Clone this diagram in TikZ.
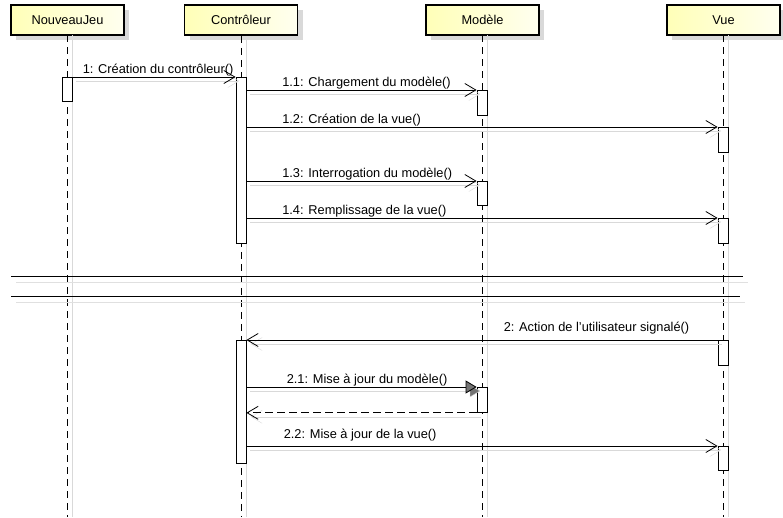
\documentclass[tikz,border=0pt]{standalone}
\usepackage{fontspec}
\setmainfont{Liberation Sans}
\usetikzlibrary{arrows.meta, shadows}
\tikzset{
>={Straight Barb[length=11pt,width=13pt]}, % open arrow heads of the messages
every node/.style={font=\fontsize{12.8}{15}\selectfont}, % sets the text size
obj/.style={draw, line width=1.6pt, minimum width=113pt, minimum height=30pt, left color=yellow!28, right color=yellow!6, drop shadow={shadow xshift=5pt, shadow yshift=-5pt, fill=black!15, opacity=1}}, % the participant boxes
life/.style={line width=0.8pt, dash pattern=on 7pt off 5pt, preaction={draw=black!15, solid, transform canvas={shift={(5pt,0pt)}}}}, % lifelines with their shadow
act/.style={draw, fill=white, line width=0.8pt, minimum width=10pt, inner sep=0pt, anchor=north}, % activation bars
msg/.style={->, line width=0.8pt, preaction={draw=black!15, transform canvas={shift={(4pt,-4pt)}}}}, % a call
ret/.style={msg, dash pattern=on 8pt off 4pt}, % a return
lbl/.style={anchor=base west, inner sep=0pt}, % text above a call
sep/.style={line width=0.9pt, preaction={draw=black!12, transform canvas={shift={(5pt,-6pt)}}}}, % separator lines
}
\begin{document}
\begin{tikzpicture}[x=1pt, y=-1pt]
    \useasboundingbox (0,0) rectangle (783,517);
    \coordinate (bot) at (0,517);
    % participants
    \node[obj] (nj) at (67.5,20) {NouveauJeu};
    \node[obj] (ctl) at (241,20) {Contrôleur};
    \node[obj] (mod) at (482.5,20) {Modèle};
    \node[obj] (vue) at (723.5,20) {Vue};
    \draw[life] (67,35) -- (67,517);
    \draw[life] (ctl.south) -- (ctl |- bot);
    \draw[life] (482,35) -- (482,517);
    \draw[life] (723,35) -- (723,517);
    % separators
    \draw[sep] (11,276) -- (743,276);
    \draw[sep] (11,296) -- (740,296);
    % activations
    \node[act, minimum height=24pt] (nj1) at (67,77) {};
    \node[act, minimum height=166pt] (c1) at (241,77) {};
    \node[act, minimum height=25pt] (m1) at (482,90) {};
    \node[act, minimum height=25pt] (v1) at (723,127) {};
    \node[act, minimum height=24pt] (m2) at (482,181) {};
    \node[act, minimum height=25pt] (v2) at (723,218) {};
    \node[act, minimum height=123pt] (c2) at (241,340) {};
    \node[act, minimum height=25pt] (v3) at (723,340) {};
    \node[act, minimum height=25pt] (m3) at (482,387) {};
    \node[act, minimum height=24pt] (v4) at (723,446) {};
    % messages
    \draw[msg] (nj1.north east) -- (c1.north west)
        node[lbl, pos=0, xshift=10pt, yshift=4pt] {1: Création du contrôleur()};
    \draw[msg] (c1.east |- m1.north) -- (m1.north west)
        node[lbl, pos=0, xshift=35.5pt, yshift=4pt] {1.1: Chargement du modèle()};
    \draw[msg] (c1.east |- v1.north) -- (v1.north west)
        node[lbl, pos=0, xshift=35.5pt, yshift=3.5pt] {1.2: Création de la vue()};
    \draw[msg] (c1.east |- m2.north) -- (m2.north west)
        node[lbl, pos=0, xshift=35.5pt, yshift=4pt] {1.3: Interrogation du modèle()};
    \draw[msg] (c1.east |- v2.north) -- (v2.north west)
        node[lbl, pos=0, xshift=35.5pt, yshift=3.5pt] {1.4: Remplissage de la vue()};
    \draw[msg] (v3.north west) -- (c2.north east)
        node[lbl, anchor=base east, pos=0, xshift=-28pt, yshift=9pt] {2: Action de l'utilisateur signalé()};
    \draw[msg, -{Triangle[length=11pt,width=13pt,fill=black!55]}] (c2.east |- m3.north) -- (m3.north west)
        node[lbl, pos=0, xshift=40pt, yshift=3.5pt] {2.1: Mise à jour du modèle()};
    \draw[ret] (m3.south west) -- (c2.east |- m3.south);
    \draw[msg] (c2.east |- v4.north) -- (v4.north west)
        node[lbl, pos=0, xshift=37pt, yshift=8pt] {2.2: Mise à jour de la vue()};
\end{tikzpicture}
\end{document}
